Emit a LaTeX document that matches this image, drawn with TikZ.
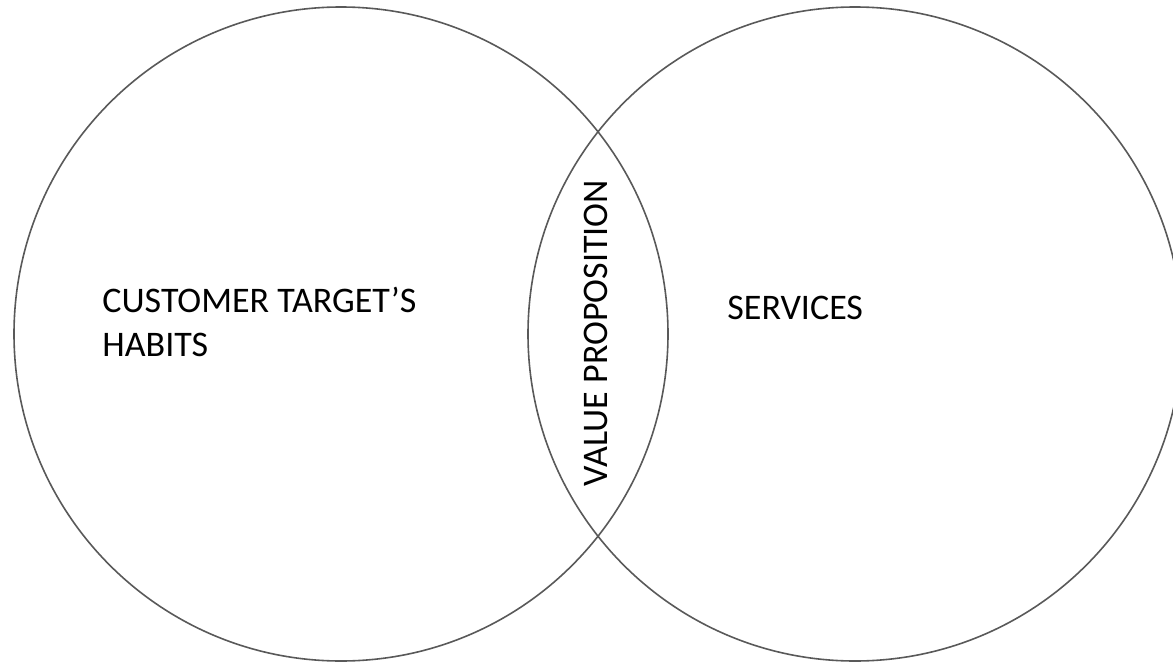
\documentclass[tikz,border=0pt]{standalone}
\usepackage{fontspec}
\setmainfont{Carlito}
\definecolor{ringgray}{rgb}{0.35, 0.35, 0.35}
\tikzstyle{ringstyle} = [circle,
minimum size=327pt,
inner sep=0pt,
outer sep=0pt,
draw=ringgray,
line width=0.8pt]
\tikzstyle{labelstyle} = [inner sep=0pt,
align=left,
font=\fontsize{18}{21.6}\selectfont]

\begin{document}
\begin{tikzpicture}[x=0.5pt, y=-0.5pt]
\useasboundingbox (0,0) rectangle (1173,664);
\clip (0,0) rectangle (1173,664);

\node (habitsring) [ringstyle] at (341,334) {};

\node (servicesring) [ringstyle] at (855,334) {};

\node (habits) [labelstyle, anchor=west] at (102,322) {CUSTOMER TARGET’S\\HABITS};

\node (services) [labelstyle, anchor=west] at (727,308) {SERVICES};

\node (value) [labelstyle, rotate=90] at (596,333) {VALUE PROPOSITION};
\end{tikzpicture}
\end{document}
